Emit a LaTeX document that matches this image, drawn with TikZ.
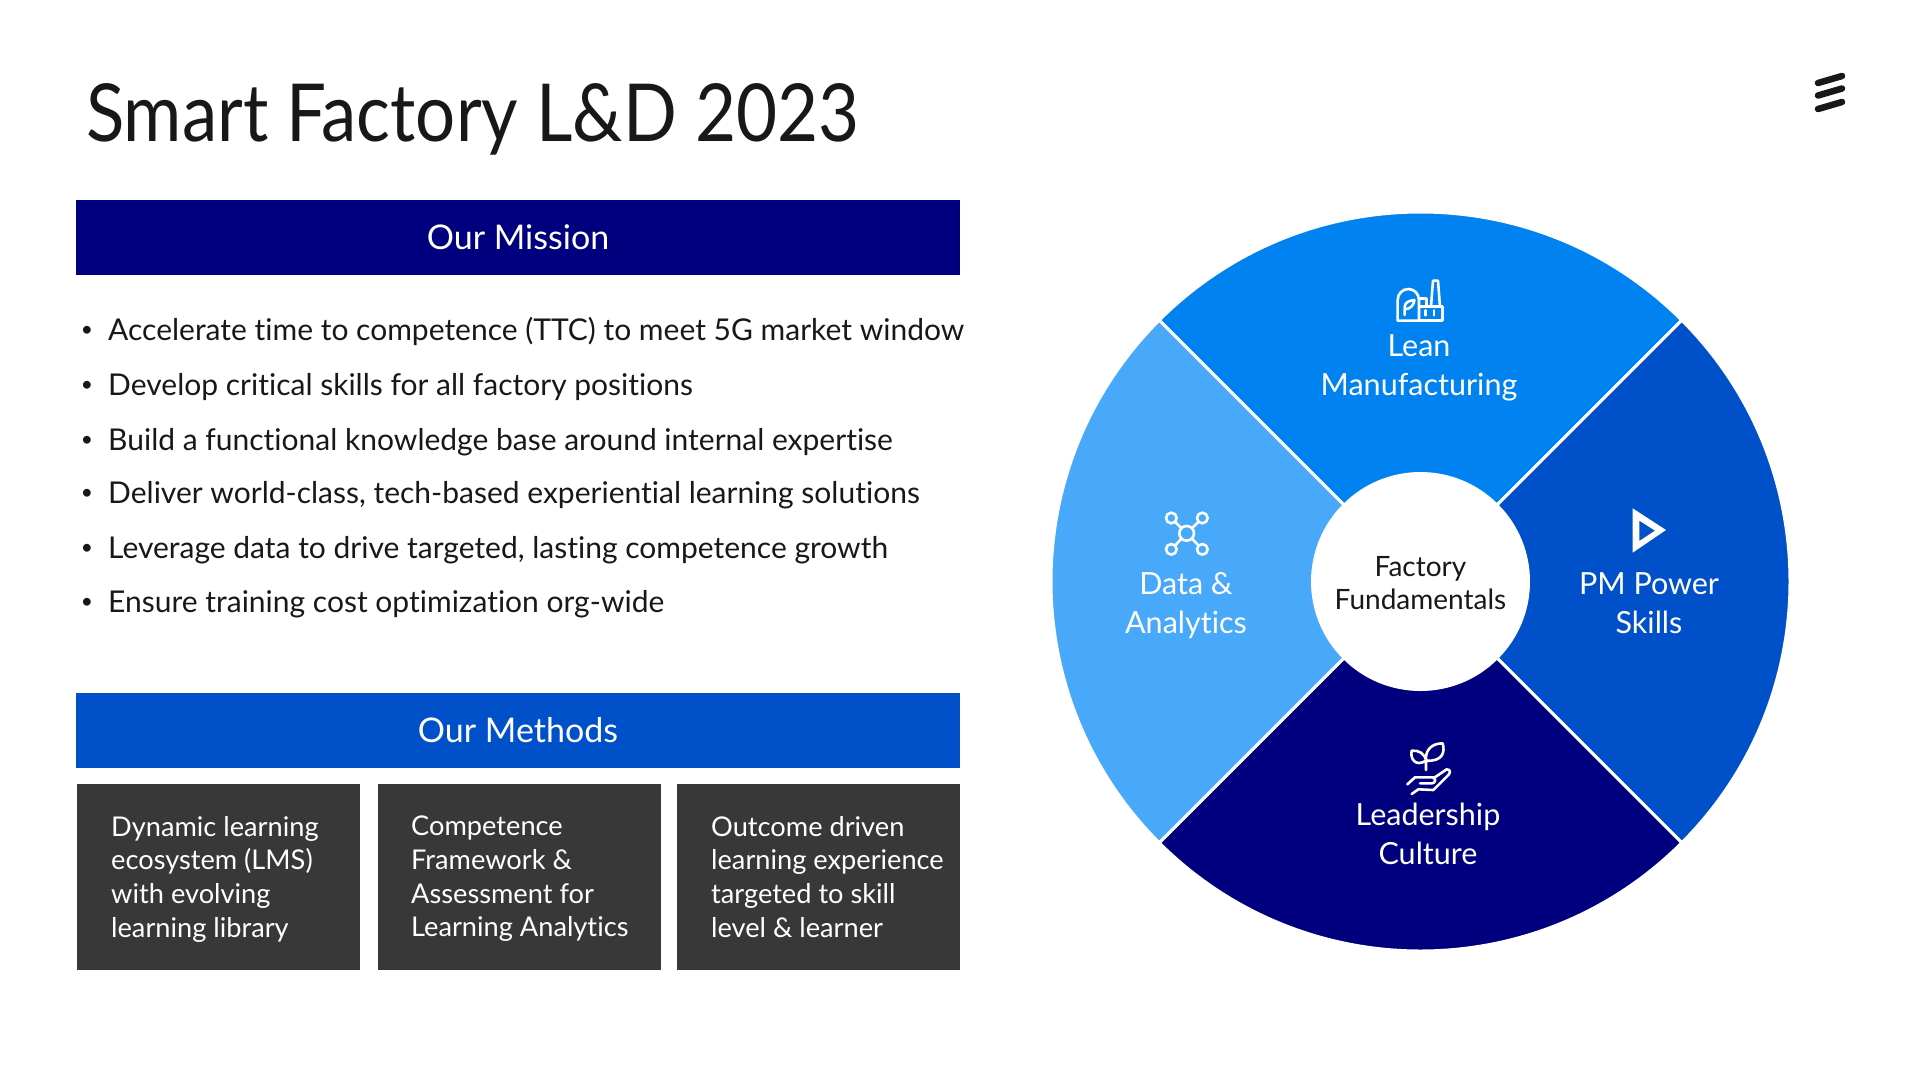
\documentclass[tikz,border=0pt]{standalone}
\usepackage{fontspec}
\setmainfont[Ligatures=NoCommon]{Lato}
\newfontfamily\titlefont[FakeStretch=0.885]{Lato}
\usetikzlibrary{calc}
\definecolor{navyE}{HTML}{00007E}
\definecolor{blueA}{HTML}{0082F0}
\definecolor{blueB}{HTML}{0050CA}
\definecolor{blueC}{HTML}{48A8FA}
\definecolor{darkbox}{HTML}{383838}
\definecolor{inkE}{HTML}{181818}
\newcommand{\fsz}[2]{\fontsize{#1}{#2}\selectfont}
\tikzset{
  x=1pt,y=-1pt,
  barbox/.style={draw=none,minimum height=75pt,text=white,font=\fsz{34}{40},inner sep=0pt},
  methodbox/.style={anchor=north west,fill=darkbox,minimum width=283pt,minimum height=186pt,inner sep=0pt},
  methodtext/.style={anchor=north west,text=white,align=left,font=\fsz{27.2}{33.6},inner sep=0pt},
  bullettext/.style={anchor=base west,inner sep=0pt,text=inkE,font=\fsz{30}{34}},
  bulletdot/.style={anchor=base,inner sep=0pt,text=inkE,font=\fsz{21}{24}},
  wedgeE/.style={draw=white,line width=3pt},
  wheeltext/.style={text=white,align=center,font=\fsz{30.5}{39},inner sep=0pt},
  iconline/.style={draw=white,line width=2.6pt,line join=round,line cap=round},
}
\newcommand{\wedgeat}[3]{%
  \path[wedgeE,fill=#3] ([shift={(#1:369.5)}]c) arc[start angle=#1,end angle=#2,radius=369.5]
    -- ([shift={(#2:108)}]c) arc[start angle=#2,end angle=#1,radius=108] -- cycle;}
\begin{document}
\begin{tikzpicture}
\useasboundingbox (0,0) rectangle (1920,1077);
\fill[white] (0,0) rectangle (1920,1077);
\node[anchor=base west,inner sep=0pt,text=inkE,font=\titlefont\fsz{80}{90}] (title) at (86,141) {Smart Factory L\&D 2023};
\coordinate (lg1a) at (1818,83); \coordinate (lg1b) at (1842,76);
\coordinate (lg2a) at (1818,95.5); \coordinate (lg2b) at (1842,88.5);
\coordinate (lg3a) at (1818,109); \coordinate (lg3b) at (1842,102);
\draw[inkE,line width=6.5pt,line cap=round] (lg1a)--(lg1b) (lg2a)--(lg2b) (lg3a)--(lg3b);

\node[barbox,fill=navyE,minimum width=884pt] (mission) at (518,237) {Our Mission};
\foreach \nm/\yy/\tx in {b1/340/{Accelerate time to competence (TTC) to meet 5G market window},
  b2/395/{Develop critical skills for all factory positions},
  b3/450/{Build a functional knowledge base around internal expertise},
  b4/503/{Deliver world-class, tech-based experiential learning solutions},
  b5/558/{Leverage data to drive targeted, lasting competence growth},
  b6/612/{Ensure training cost optimization org-wide}}{
  \node[bullettext] (\nm) at (108,\yy) {\tx};
  \node[bulletdot] (\nm d) at (87,\yy-4) {•};
}
\node[barbox,fill=blueB,minimum width=884pt] (methods) at (518,730) {Our Methods};
\node[methodbox] (m1) at (77,784) {};
\node[methodbox] (m2) at (377.5,784) {};
\node[methodbox] (m3) at (677,784) {};
\node[methodtext] (m1t) at (111,816) {Dynamic learning\\ecosystem (LMS)\\with evolving\\learning library};
\node[methodtext] (m2t) at (411,816) {Competence\\Framework \&\\Assessment for\\Learning Analytics};
\node[methodtext] (m3t) at (711,816) {Outcome driven\\learning experience\\targeted to skill\\level \& learner};

\coordinate (c) at (1420.5,581.5);
\wedgeat{-45}{-135}{blueA}
\wedgeat{45}{-45}{blueB}
\wedgeat{135}{45}{navyE}
\wedgeat{225}{135}{blueC}
\node[circle,fill=white,minimum size=216pt,inner sep=0pt] (hub) at (c) {};
\node[inner sep=0pt,align=center,text=inkE,font=\fsz{28}{33}] (hubtext) at (1420.5,583.5) {Factory\\Fundamentals};
\node[wheeltext] (lean) at (1419,367.5) {Lean\\Manufacturing};
\node[wheeltext] (data) at (1186,605.5) {Data \&\\Analytics};
\node[wheeltext] (pm) at (1649,603) {PM Power\\Skills};
\node[wheeltext] (lead) at (1428,834) {Leadership\\Culture};

% factory icon
\begin{scope}[shift={(1360,260)},x=0.3333pt,y=-0.3333pt]
\draw[iconline] (178,182) -- (113,182) -- (113,120) arc[start angle=180,end angle=360,x radius=32,y radius=33] -- (177,182);
\draw[iconline] (177,115) -- (200,115) -- (200,140);
\draw[iconline] (180,140) -- (247,140) -- (247,182) -- (178,182);
\draw[iconline] (213,140) -- (219,62) -- (234,62) -- (240,140);
\draw[iconline] (197,151) -- (197,166) (222,151) -- (222,166);
\draw[iconline] (134,165) -- (134,142) .. controls (134,128) and (145,122) .. (163,120) .. controls (162,135) and (152,146) .. (136,148);
\end{scope}
% network icon
\begin{scope}[shift={(1140,490)},x=0.3333pt,y=-0.3333pt]
\coordinate (nc) at (140,130);
\foreach \p in {(94,84),(187,84),(94,178),(187,178)}{
  \draw[iconline] (nc) -- \p;
  \fill[blueC] \p circle[radius=13];
  \draw[iconline] \p circle[radius=16];
}
\fill[blueC] (nc) circle[radius=21];
\draw[iconline] (nc) circle[radius=22];
\end{scope}
% play icon
\begin{scope}[shift={(1610,490)},x=0.3333pt,y=-0.3333pt]
\fill[white,even odd rule] (68,55) -- (168,120) -- (68,188) -- cycle (88,92) -- (88,153) -- (135,122) -- cycle;
\end{scope}
% plant icon
\begin{scope}[shift={(1380,730)},x=0.3333pt,y=-0.3333pt]
\draw[iconline] (138,120) -- (138,92) .. controls (105,112) and (90,85) .. (95,62) .. controls (115,60) and (135,70) .. (138,92) .. controls (190,95) and (195,65) .. (188,40) .. controls (155,40) and (135,60) .. (138,92);
\draw[iconline] (82,163) -- (105,142) -- (160,142) .. controls (170,148) and (165,160) .. (155,160) -- (120,160);
\draw[iconline] (160,145) -- (200,118) .. controls (212,118) and (212,128) .. (205,135) -- (160,180) -- (115,178) -- (95,192);
\end{scope}
\end{tikzpicture}
\end{document}
